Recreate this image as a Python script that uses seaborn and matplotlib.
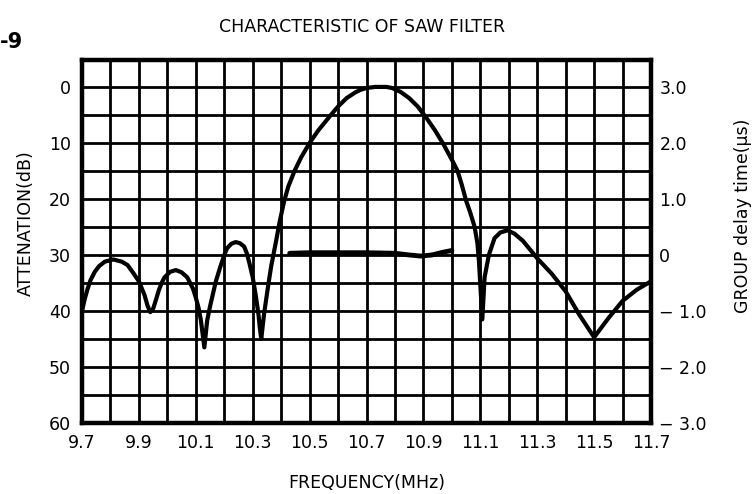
import numpy as np
import pandas as pd
import matplotlib
matplotlib.use("Agg")
import matplotlib.pyplot as plt
import seaborn as sns

# attenuation curve (MHz, dB)
freq = [9.70, 9.71, 9.72, 9.73, 9.745, 9.76, 9.78, 9.81, 9.84, 9.86, 9.88, 9.90, 9.92, 9.93, 9.94, 9.95,
        9.96, 9.97, 9.98, 9.99, 10.01, 10.03, 10.05, 10.07, 10.09, 10.10, 10.11, 10.118, 10.13,
        10.14, 10.15, 10.16, 10.17, 10.185, 10.20, 10.21, 10.225, 10.24, 10.255, 10.27, 10.28,
        10.29, 10.30, 10.31, 10.32, 10.325, 10.33,
        10.34, 10.354, 10.365, 10.383, 10.395, 10.41, 10.425, 10.447, 10.47, 10.50, 10.53,
        10.57, 10.60, 10.63, 10.66, 10.68, 10.70, 10.73, 10.75, 10.77, 10.79,
        10.82, 10.85, 10.88, 10.91, 10.94, 10.97, 11.00, 11.02, 11.035, 11.05, 11.065,
        11.08, 11.09, 11.095, 11.107,
        11.115, 11.13, 11.15, 11.17, 11.195, 11.22, 11.25, 11.30, 11.35, 11.40, 11.447, 11.50,
        11.55, 11.60, 11.65, 11.70]
atten = [40.0, 37.8, 36.0, 34.5, 33.0, 32.0, 31.2, 30.8, 31.2, 31.8, 33.2, 34.7, 37.2, 39.0, 40.2, 39.6,
         38.0, 36.3, 35.0, 34.0, 33.0, 32.7, 33.1, 34.0, 36.0, 37.6, 39.5, 41.7, 46.5,
         41.7, 39.2, 37.0, 34.8, 32.3, 30.0, 28.8, 28.0, 27.7, 27.9, 28.5, 29.8,
         31.8, 34.0, 37.0, 40.5, 43.0, 45.0,
         40.5, 35.6, 32.0, 27.3, 24.0, 20.5, 17.8, 15.0, 12.6, 10.0, 7.8,
         5.3, 3.5, 2.0, 1.0, 0.5, 0.2, 0.0, 0.0, 0.0, 0.2,
         0.9, 2.0, 3.5, 5.5, 7.7, 10.2, 13.0, 15.0, 17.5, 20.3, 22.5,
         25.0, 28.0, 31.0, 41.5,
         34.0, 30.0, 27.0, 26.0, 25.6, 26.2, 27.5, 30.6, 33.3, 36.5, 40.6, 44.7,
         41.3, 38.2, 36.2, 34.7]

# group delay in the pass band (MHz, us)
gd_freq = [10.43, 10.50, 10.60, 10.70, 10.80, 10.85, 10.89, 10.93, 10.97, 11.00]
gd_time = [0.03, 0.04, 0.04, 0.04, 0.03, 0.00, -0.02, 0.00, 0.05, 0.08]

x_ticks = [9.7, 9.9, 10.1, 10.3, 10.5, 10.7, 10.9, 11.1, 11.3, 11.5, 11.7]
y_ticks = [0, 10, 20, 30, 40, 50, 60]
gd_ticks = [3.0, 2.0, 1.0, 0.0, -1.0, -2.0, -3.0]
gd_labels = ["3.0", "2.0", "1.0", "0", "\u2212 1.0", "\u2212 2.0", "\u2212 3.0"]

sns.set_style("white")
plt.rcParams["font.family"] = ["DejaVu Sans"]
plt.rcParams["text.color"] = "black"
plt.rcParams["axes.labelcolor"] = "black"
plt.rcParams["xtick.color"] = "black"
plt.rcParams["ytick.color"] = "black"

att_df = pd.DataFrame({"f": freq, "a": atten})
gd_df = pd.DataFrame({"f": gd_freq, "t": gd_time})

fig = plt.figure(figsize=(7.55, 4.94), dpi=100)
ax = fig.add_axes([0.1086, 0.1437, 0.7537, 0.7348])

#grid every 0.1 MHz and 5 dB
for v in np.arange(9.7, 11.71, 0.1):
    ax.axvline(v, color="black", lw=2.0, zorder=1)
for h in np.arange(-5, 61, 5):
    ax.axhline(h, color="black", lw=2.0, zorder=1)

sns.lineplot(data=att_df, x="f", y="a", ax=ax, color="black", lw=3.0,
             sort=False, estimator=None, zorder=3,
             solid_joinstyle="round", solid_capstyle="round")

ax.set_xlim(9.7, 11.7)
ax.set_ylim(60, -4.8)
ax.set_xticks(x_ticks)
ax.set_xticklabels([str(t) for t in x_ticks])
ax.set_yticks(y_ticks)
ax.tick_params(length=0, labelsize=12.5, pad=8)
for s in ax.spines.values():
    s.set_linewidth(3.2)
    s.set_color("black")
ax.set_xlabel("FREQUENCY(MHz)", fontsize=12.5, labelpad=16)
ax.set_ylabel("ATTENATION(dB)", fontsize=12.5)
ax.yaxis.set_label_coords(-0.083, 0.55)

ax2 = ax.twinx()
sns.lineplot(data=gd_df, x="f", y="t", ax=ax2, color="black", lw=3.5,
             sort=False, estimator=None, solid_capstyle="round")
ax2.set_ylim(-3.0, 3.48)
ax2.set_yticks(gd_ticks)
ax2.set_yticklabels(gd_labels)
ax2.tick_params(length=0, labelsize=12.5, pad=6)
ax2.set_xlabel("")
ax2.set_ylabel("GROUP delay time(\u03bcs)", fontsize=12.5)
ax2.yaxis.set_label_coords(1.145, 0.57)
for s in ax2.spines.values():
    s.set_visible(False)

fig.text(0.48, 0.945, "CHARACTERISTIC OF SAW FILTER", ha="center", va="center",
         fontsize=12.5)
fig.text(0.0, 0.915, "-9", ha="left", va="center", fontsize=15, fontweight="bold")

fig.savefig("out.png", dpi=100)
